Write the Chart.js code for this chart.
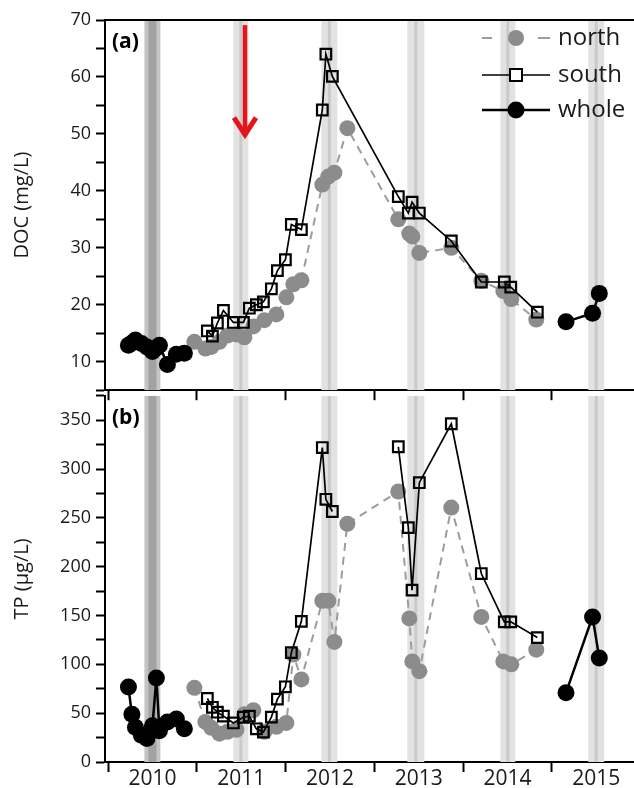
<!DOCTYPE html>
<html><head><meta charset="utf-8">
<script src="https://cdn.jsdelivr.net/npm/chart.js@4.4.1/dist/chart.umd.min.js"></script>
<style>
html,body{margin:0;padding:0;background:#fff;width:634px;height:788px;overflow:hidden;}
canvas{position:absolute;left:0;}
#cA{top:0px}
#cB{top:380px}
</style></head><body>
<canvas id="cB" width="634" height="408"></canvas>
<canvas id="cA" width="634" height="406"></canvas>
<script>
// ---------------- data ----------------
const seriesNames = ['north', 'south', 'whole'];

const wholeYears = [2009.730, 2009.769, 2009.809, 2009.876, 2009.938, 2010.000, 2010.045, 2010.079, 2010.169, 2010.270, 2010.360, 2012.5, 2014.659, 2014.958, 2015.034];
const wholeDOC   = [12.9, 13.3, 13.8, 13.2, 12.6, 11.8, 12.4, 12.9, 9.5, 11.3, 11.5, null, 17.0, 18.5, 22.0];
const wholeTP    = [76.8, 49, 35.7, 27.3, 24, 37, 86, 32, 41, 44, 34, null, 71, 148.6, 106.5];

const northYears = [2010.473, 2010.597, 2010.664, 2010.755, 2010.845, 2010.946, 2011.036, 2011.137, 2011.261, 2011.396, 2011.509, 2011.588, 2011.678, 2011.914, 2011.982, 2012.050, 2012.196, 2012.770, 2012.894, 2012.928, 2013.007, 2013.367, 2013.705, 2013.953, 2014.043, 2014.324];
const northDOC   = [13.5, 12.3, 12.6, 13.5, 14.6, 14.8, 14.3, 16.2, 17.3, 18.3, 21.3, 23.6, 24.3, 41.1, 42.5, 43.2, 51.0, 35.0, 32.5, 32.0, 29.1, 30.0, 24.2, 22.4, 21.0, 17.4];
const northTP    = [76, 41, 35, 29, 31, 33, 49, 53, 31, 36, 40, 110, 84.6, 165, 165, 123, 244, 277, 147, 103, 93, 260.5, 148.6, 103, 100, 115];

const southYears = [2010.619, 2010.676, 2010.732, 2010.800, 2010.912, 2011.025, 2011.092, 2011.171, 2011.250, 2011.340, 2011.408, 2011.498, 2011.565, 2011.678, 2011.914, 2011.954, 2012.027, 2012.4, 2012.770, 2012.883, 2012.925, 2013.007, 2013.367, 2013.705, 2013.964, 2014.037, 2014.336];
const southDOC   = [15.4, 14.5, 16.8, 19.0, 16.9, 16.9, 19.4, 20.0, 20.5, 22.8, 26.0, 27.9, 34.1, 33.2, 54.2, 64.0, 60.1, null, 39.0, 36.1, 38.0, 36.1, 31.2, 24.0, 24.0, 23.1, 18.7];
const southTP    = [65, 56, 51, 47, 40, 45.8, 47, 34, 30.6, 46, 64.4, 77, 112, 144, 322, 269, 256.5, null, 322.8, 240, 176, 286, 346.4, 193, 143.5, 143.5, 127.4];

const xTickValues = [2009.5, 2010, 2010.5, 2011, 2011.5, 2012, 2012.5, 2013, 2013.5, 2014, 2014.5, 2015];
const iceBands = [[2009.91, 2010.09], [2010.912, 2011.081], [2011.903, 2012.083], [2012.872, 2013.063], [2013.919, 2014.088], [2014.91, 2015.09]];
const arrowYear = 2011.043, arrowFrom = 69.1, arrowTo = 49.0;

// ---------------- settings ----------------
const X_MIN = 2009.466, X_MAX = 2015.425;
const FONT = "'Open Sans', 'DejaVu Sans', sans-serif";
Chart.defaults.font.family = FONT;
Chart.defaults.color = '#1a1a1a';
Chart.defaults.animation = false;

const pts = (xs, ys) => xs.map((x, i) => ({x: x, y: ys[i]}));

function makeDatasets(northV, southV, wholeV, southSpan) {
  return [
    {label: seriesNames[2], data: pts(wholeYears, wholeV), borderColor: '#000', borderWidth: 2.5,
     pointStyle: 'circle', pointRadius: 8.5, pointBackgroundColor: '#000', pointBorderColor: '#000', pointBorderWidth: 0,
     spanGaps: false, order: 1},
    {label: seriesNames[1], data: pts(southYears, southV), borderColor: '#000', borderWidth: 1.7,
     pointStyle: 'rect', pointRadius: 7.5, pointBackgroundColor: 'rgba(255,255,255,0)', pointBorderColor: '#000', pointBorderWidth: 2.2,
     spanGaps: southSpan, order: 2},
    {label: seriesNames[0], data: pts(northYears, northV), borderColor: '#9c9c9c', borderWidth: 2, borderDash: [8, 6],
     pointStyle: 'circle', pointRadius: 8, pointBackgroundColor: '#8c8c8c', pointBorderColor: '#8c8c8c', pointBorderWidth: 0,
     spanGaps: false, order: 3}
  ];
}

function xScale(showLabels, height) {
  return {
    type: 'linear', min: X_MIN, max: X_MAX,
    afterBuildTicks: s => { s.ticks = xTickValues.map(v => ({value: v})); },
    afterFit: s => { s.height = height; },
    border: {display: true, color: '#000', width: 2},
    grid: {drawOnChartArea: false, drawTicks: true, tickLength: 10, tickWidth: 2,
           tickColor: c => (c.tick && Number.isInteger(c.tick.value)) ? 'rgba(0,0,0,0)' : '#000'},
    ticks: {autoSkip: false, maxRotation: 0, padding: -6, font: {size: 21}, color: '#1a1a1a',
            callback: v => (showLabels && Number.isInteger(v)) ? String(v) : ''}
  };
}

function yScale(min, max, step, labelStep, title) {
  return {
    min: min, max: max,
    afterFit: s => { s.width = 105; },
    border: {display: true, color: '#000', width: 2},
    grid: {drawOnChartArea: false, drawTicks: true, tickLength: 9, tickWidth: 2, tickColor: '#000'},
    ticks: {stepSize: step, autoSkip: false, padding: 5, font: {size: 18}, color: '#1a1a1a',
            callback: v => (v % labelStep === 0) ? String(v) : ''},
    title: {display: true, text: title, font: {size: 20}, color: '#1a1a1a', padding: {top: 10, bottom: 0}}
  };
}

const bandPlugin = {
  id: 'bands',
  beforeDatasetsDraw(chart) {
    const {ctx, chartArea: a, scales: {x}} = chart;
    ctx.save();
    ctx.beginPath(); ctx.rect(a.left + 1, a.top, a.right - a.left, a.bottom - a.top); ctx.clip();
    iceBands.forEach((b, i) => {
      const x0 = x.getPixelForValue(b[0]), x1 = x.getPixelForValue(b[1]);
      const dark = i === 0;
      ctx.fillStyle = dark ? '#c4c4c4' : '#e2e2e2';
      ctx.fillRect(x0, a.top, x1 - x0, a.bottom - a.top);
      const xm = (x0 + x1) / 2, w = dark ? 8 : 3;
      ctx.fillStyle = dark ? '#a2a2a2' : '#cacaca';
      ctx.fillRect(xm - w / 2, a.top, w, a.bottom - a.top);
    });
    ctx.restore();
  }
};

function panelLabel(text) {
  return {
    id: 'panelLabel',
    afterDraw(chart) {
      const {ctx, chartArea: a} = chart;
      ctx.save();
      ctx.font = 'bold 21px ' + FONT;
      ctx.fillStyle = '#000';
      ctx.textBaseline = 'middle';
      ctx.textAlign = 'left';
      ctx.fillText(text, a.left + 7, a.top + 22);
      ctx.restore();
    }
  };
}

const topFramePlugin = {
  id: 'topFrame',
  afterDraw(chart) {
    const {ctx, chartArea: a} = chart;
    ctx.save();
    ctx.strokeStyle = '#000'; ctx.lineWidth = 2;
    ctx.beginPath(); ctx.moveTo(a.left - 1, a.top); ctx.lineTo(a.right, a.top); ctx.stroke();
    ctx.restore();
  }
};

const arrowPlugin = {
  id: 'arrow',
  afterDatasetsDraw(chart) {
    const {ctx, scales: {x, y}} = chart;
    const px = x.getPixelForValue(arrowYear), y0 = y.getPixelForValue(arrowFrom), y1 = y.getPixelForValue(arrowTo);
    ctx.save();
    ctx.strokeStyle = '#e5141b'; ctx.lineWidth = 4.5; ctx.lineCap = 'butt';
    ctx.beginPath(); ctx.moveTo(px, y0); ctx.lineTo(px, y1 - 4); ctx.stroke();
    ctx.lineWidth = 5; ctx.lineJoin = 'miter';
    ctx.beginPath(); ctx.moveTo(px - 11, y1 - 22); ctx.lineTo(px, y1 - 5); ctx.lineTo(px + 11, y1 - 22); ctx.stroke();
    ctx.restore();
  }
};

const legendPlugin = {
  id: 'customLegend',
  afterDraw(chart) {
    const {ctx, chartArea: a} = chart;
    const ds = chart.data.datasets;
    const byName = n => ds.find(d => d.label === n);
    const x0 = a.right - 152, xm = a.right - 118, x1 = a.right - 84, tx = a.right - 76;
    const rows = [['north', a.top + 18], ['south', a.top + 55], ['whole', a.top + 90]];
    ctx.save();
    rows.forEach(([name, y]) => {
      const d = byName(name);
      ctx.strokeStyle = d.borderColor; ctx.lineWidth = d.borderWidth;
      if (name === 'north') {
        ctx.beginPath(); ctx.moveTo(x0, y); ctx.lineTo(x0 + 10, y); ctx.moveTo(x1 - 12, y); ctx.lineTo(x1, y); ctx.stroke();
        ctx.fillStyle = d.pointBackgroundColor;
        ctx.beginPath(); ctx.arc(xm, y, 8, 0, Math.PI * 2); ctx.fill();
      } else if (name === 'south') {
        ctx.beginPath(); ctx.moveTo(x0, y); ctx.lineTo(x1, y); ctx.stroke();
        ctx.fillStyle = '#fff'; ctx.fillRect(xm - 6, y - 6, 12, 12);
        ctx.lineWidth = 2; ctx.strokeRect(xm - 6, y - 6, 12, 12);
      } else {
        ctx.beginPath(); ctx.moveTo(x0, y); ctx.lineTo(x1, y); ctx.stroke();
        ctx.fillStyle = '#000';
        ctx.beginPath(); ctx.arc(xm, y, 8.5, 0, Math.PI * 2); ctx.fill();
      }
      ctx.fillStyle = '#1a1a1a';
      ctx.font = '24px ' + FONT;
      ctx.textBaseline = 'middle'; ctx.textAlign = 'left';
      ctx.fillText(name, tx, y);
    });
    ctx.restore();
  }
};

new Chart(document.getElementById('cA'), {
  type: 'line',
  data: {datasets: makeDatasets(northDOC, southDOC, wholeDOC, true)},
  options: {
    responsive: false, devicePixelRatio: 1,
    layout: {autoPadding: false, padding: {top: 20, right: 0, left: 0, bottom: 0}},
    plugins: {legend: {display: false}, tooltip: {enabled: false}},
    scales: {x: xScale(false, 15), y: yScale(5, 70, 5, 10, 'DOC (mg/L)')}
  },
  plugins: [bandPlugin, arrowPlugin, topFramePlugin, panelLabel('(a)'), legendPlugin]
});

new Chart(document.getElementById('cB'), {
  type: 'line',
  data: {datasets: makeDatasets(northTP, southTP, wholeTP, false)},
  options: {
    responsive: false, devicePixelRatio: 1,
    layout: {autoPadding: false, padding: {top: 11, right: 0, left: 0, bottom: 0}},
    plugins: {legend: {display: false}, tooltip: {enabled: false}},
    scales: {x: xScale(true, 26), y: yScale(0, 375, 25, 50, 'TP (\u03BCg/L)')}
  },
  plugins: [bandPlugin, panelLabel('(b)')]
});
</script>
</body></html>
